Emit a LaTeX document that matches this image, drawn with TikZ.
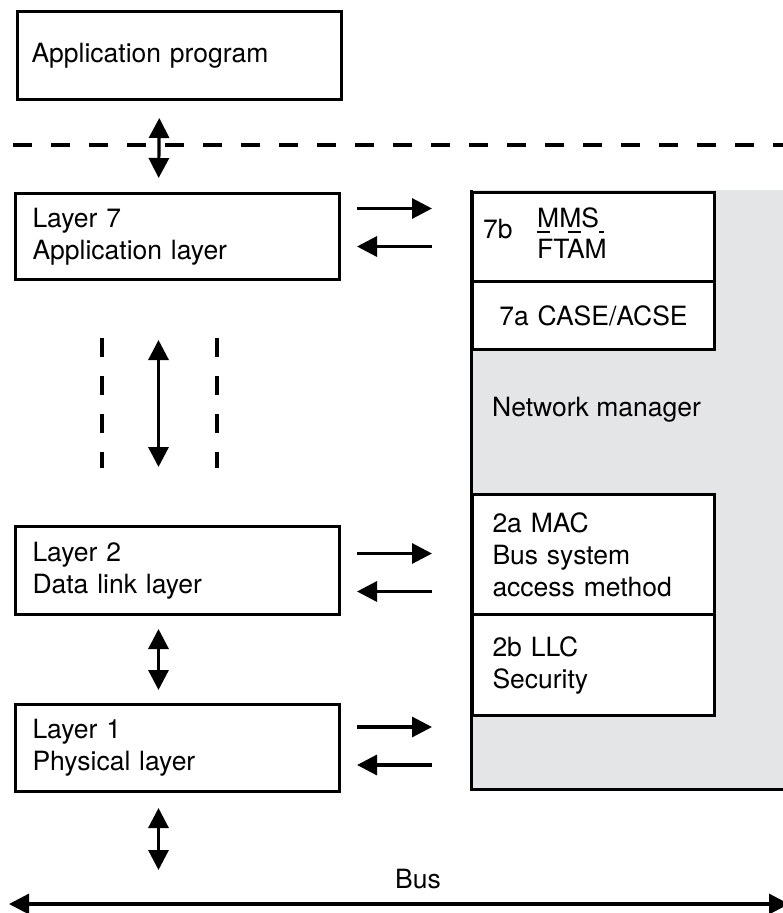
\documentclass[tikz,border=0pt]{standalone}
\usepackage{fontspec}
\setmainfont{TeX Gyre Heros}
\usetikzlibrary{arrows.meta, positioning}
\definecolor{mgrgray}{RGB}{228,229,231}

\begin{document}
\begin{tikzpicture}[
    x=1pt, y=-1pt,
    font=\fontsize{26.5}{32}\selectfont,
    >={Triangle[length=20pt, width=20pt]},
    layer/.style={rectangle, draw, line width=3pt, anchor=north west, minimum width=324pt, inner xsep=17pt, text width=290pt, align=left},
    sub/.style={rectangle, draw, line width=3pt, fill=white, anchor=north west, minimum width=242pt, inner xsep=20pt, text width=202pt, align=left},
    link/.style={line width=3.2pt, shorten <=16pt, shorten >=39pt},
    vlink/.style={<->, line width=3.2pt},
    border/.style={line width=4pt, dash pattern=on 19pt off 19pt},
    txt/.style={inner sep=0pt}
  ]
  \useasboundingbox (0,0) rectangle (783,913);

  % network manager area
  \node[fill=mgrgray, anchor=north west, inner sep=0pt, minimum width=340pt, minimum height=599pt] (mgr) at (471,190) {};
  \draw[line width=3pt] (mgr.north west) -- (mgr.south west) -- (mgr.south east);
  \node[txt, anchor=west] (nmtext) at (492,410) {Network manager};

  % layers
  \node[layer, inner xsep=14pt, text width=296pt, minimum height=88pt] (app) at (16,10) {Application program};
  \node[layer, minimum height=86pt] (l7) at (14,192) {Layer 7\\Application layer};
  \node[layer, minimum height=88pt] (l2) at (14,525) {Layer 2\\Data link layer};
  \node[layer, minimum height=87pt] (l1) at (14,703) {Layer 1\\Physical layer};

  % sublayers
  \node[sub, minimum height=89pt] (l7b) at (471,191) {};
  \node[txt, anchor=base west] (lbl7b) at (483,238) {7b};
  \node[txt, anchor=base west] (mms) at (537,227) {MMS};
  \node[txt, anchor=base west] (ftam) at (537,258) {FTAM};
  \draw[line width=2.5pt, dash pattern=on 13pt off 18pt] ([yshift=-5pt]mms.base west) -- ++(67,0);
  \node[sub, minimum height=68pt, align=center] (l7a) at (471,280) {7a CASE/ACSE};
  \node[sub, minimum height=120pt] (l2a) at (471,493) {2a MAC\\Bus system\\access method};
  \node[sub, minimum height=101pt] (l2b) at (471,613) {2b LLC\\Security};

  % service boundary
  \coordinate (sepL) at (13,145);
  \coordinate (sepR) at (800,145);
  \draw[border] (sepL) -- (sepR);

  % vertical links
  \draw[vlink, shorten <=17pt, shorten >=14pt] ([xshift=-20pt]app.south) -- ([xshift=-19pt]l7.north);
  \draw[vlink, shorten <=59pt, shorten >=58pt] ([xshift=-19pt]l7.south) -- ([xshift=-19pt]l2.north);
  \draw[border, shorten <=57pt, shorten >=57pt] ([xshift=-76pt]l7.south) -- ([xshift=-76pt]l2.north);
  \draw[border, shorten <=57pt, shorten >=57pt] ([xshift=39pt]l7.south) -- ([xshift=39pt]l2.north);
  \draw[vlink, shorten <=13pt, shorten >=13pt] ([xshift=-19pt]l2.south) -- ([xshift=-19pt]l1.north);

  % bus
  \coordinate (busL) at (9,904);
  \coordinate (busR) at (789,904);
  \draw[vlink] (busL) -- (busR);
  \node[txt, anchor=base] (bus) at (418,888) {Bus};
  \draw[vlink, shorten <=15pt, shorten >=34pt] ([xshift=-19pt]l1.south) -- ([xshift=-19pt]l1.south |- busL);

  % links to network manager
  \draw[link, ->] ([yshift=28pt]l7.east) -- ([yshift=28pt]l7.east -| mgr.west);
  \draw[link, <-] ([yshift=-10pt]l7.east) -- ([yshift=-10pt]l7.east -| mgr.west);
  \draw[link, ->] ([yshift=17pt]l2.east) -- ([yshift=17pt]l2.east -| mgr.west);
  \draw[link, <-] ([yshift=-21pt]l2.east) -- ([yshift=-21pt]l2.east -| mgr.west);
  \draw[link, ->] ([yshift=21pt]l1.east) -- ([yshift=21pt]l1.east -| mgr.west);
  \draw[link, <-] ([yshift=-17pt]l1.east) -- ([yshift=-17pt]l1.east -| mgr.west);
\end{tikzpicture}
\end{document}
